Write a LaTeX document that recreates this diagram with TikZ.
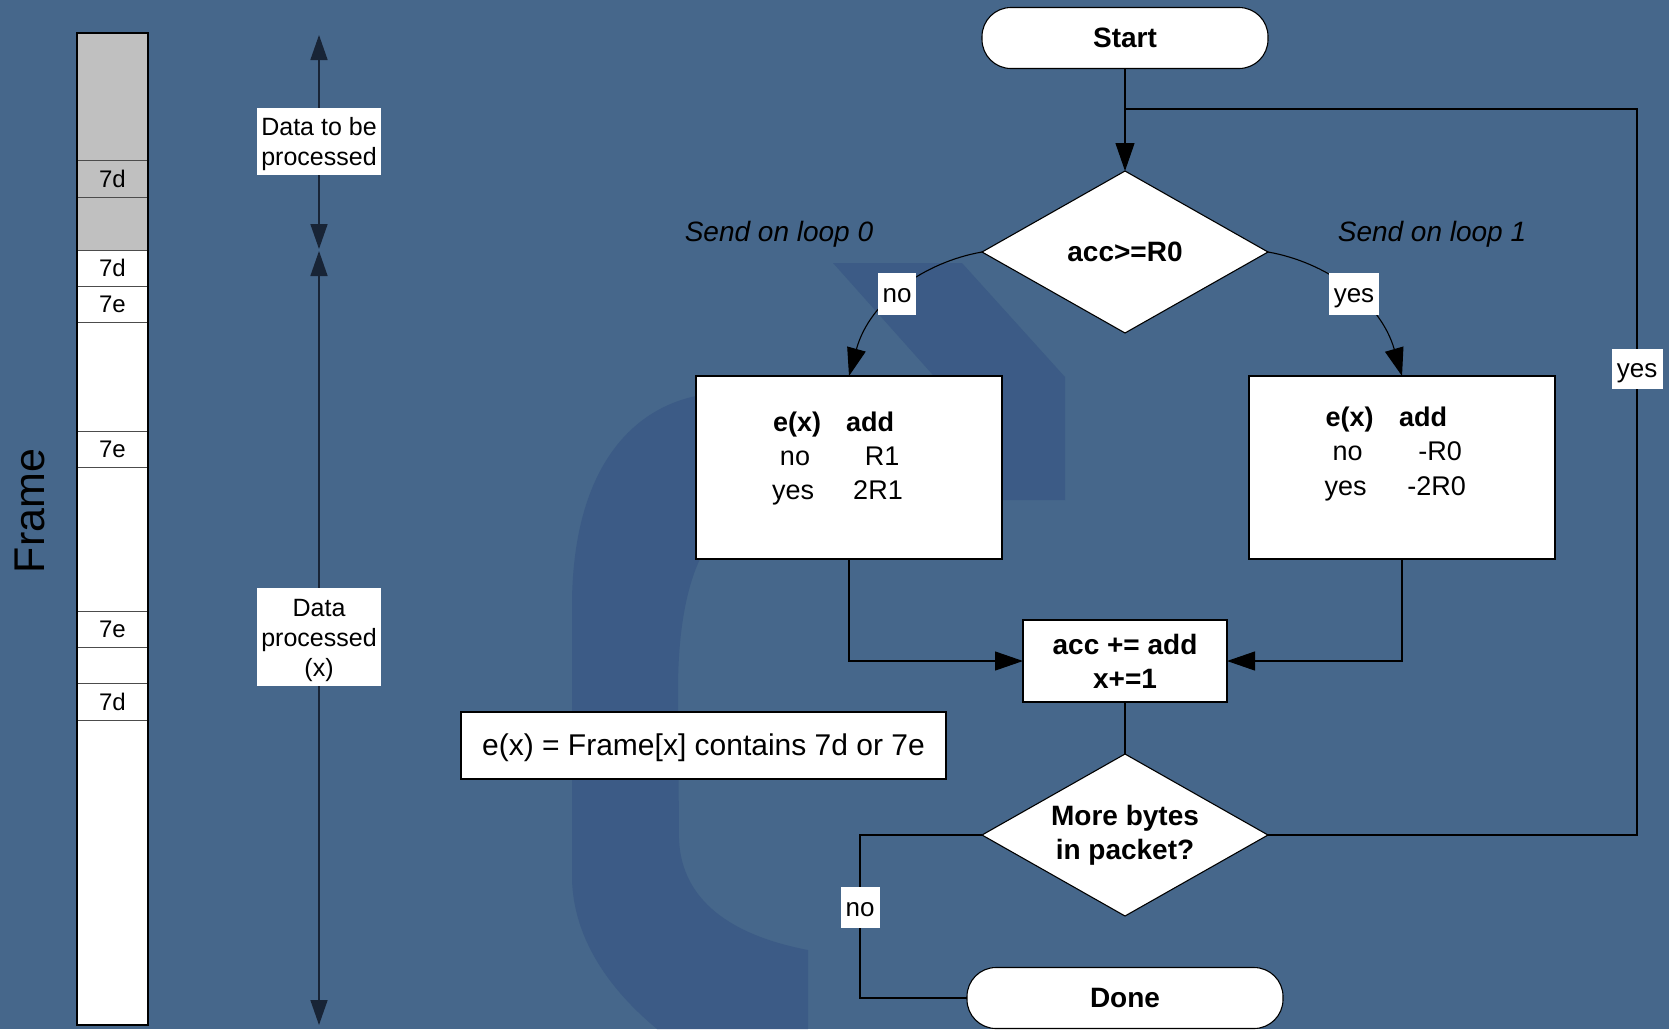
\documentclass[tikz,border=0pt]{standalone}
\usepackage{fontspec}
\setmainfont{Liberation Sans}
\usetikzlibrary{shapes.geometric,arrows.meta}

\definecolor{bgblue}{RGB}{70,103,139}
\definecolor{markblue}{RGB}{60,91,134}
\definecolor{cellgray}{RGB}{192,192,192}
\definecolor{rulecol}{RGB}{24,36,54}

\tikzset{
  flow/.style={draw=black, line width=1.1pt, fill=white, inner sep=0pt, outer sep=0pt},
  boldtxt/.style={font=\fontsize{28}{34}\selectfont\bfseries},
  termbox/.style={flow, boldtxt, rounded corners=29pt, minimum height=61pt},
  decide/.style={flow, boldtxt, diamond, aspect=1.77, align=center,
                 minimum width=286pt, minimum height=162pt},
  procbox/.style={flow, minimum width=306pt, minimum height=183pt},
  mergebox/.style={flow, boldtxt, align=center, minimum width=204pt, minimum height=82pt},
  notebox/.style={flow, font=\fontsize{30}{36}\selectfont, minimum width=485pt,
                  minimum height=67pt, text height=22pt, text depth=3pt},
  tabhead/.style={anchor=base, inner sep=0pt, font=\fontsize{27}{34}\selectfont\bfseries},
  tabcell/.style={anchor=base, inner sep=0pt, font=\fontsize{27}{34}\selectfont},
  lblbox/.style={fill=white, inner sep=0pt, minimum height=42pt,
                 text height=20pt, text depth=3pt, font=\fontsize{26}{30}\selectfont},
  loopnote/.style={anchor=base, inner sep=0pt, font=\fontsize{28}{34}\selectfont\itshape},
  conn/.style={draw=black, line width=1.1pt},
  flowarrow/.style={conn, -{Triangle[length=28pt,width=19pt]}},
  datarule/.style={draw=rulecol, line width=1.6pt,
                   {Triangle[length=25pt,width=17pt]}-{Triangle[length=25pt,width=17pt]}},
  datalabel/.style={fill=white, inner sep=0pt, minimum width=124pt},
  dataline/.style={anchor=base, inner sep=0pt, font=\fontsize{25}{30}\selectfont},
  cell/.style={draw=black!70, line width=1pt, minimum width=71pt, inner sep=0pt,
               outer sep=0pt, font=\fontsize{24}{28}\selectfont},
}

\begin{document}
\begin{tikzpicture}[x=1pt,y=-1pt]
  % background
  \fill[bgblue] (0,0) rectangle (1669,1029);
  \useasboundingbox (0,0) rectangle (1669,1029);

  % watermark shapes
  \fill[markblue] (833,263) -- (962,263) -- (1065,377) -- (1065,500)
                  -- (940,500) -- (940,383) -- cycle;
  \fill[markblue] (705,392) -- (696,396)
                  .. controls (630,410) and (574,470) .. (572,600)
                  -- (572,880)
                  .. controls (574,940) and (610,990) .. (657,1029)
                  -- (808,1029) -- (808,950)
                  .. controls (730,935) and (682,900) .. (679,840)
                  -- (678,690)
                  .. controls (678,620) and (690,580) .. (700,559)
                  -- (760,540) -- (760,400) -- cycle;

  % frame column
  \node[cell, fill=cellgray, minimum height=127pt] (f1)  at (112.5,96.5)  {};
  \node[cell, fill=cellgray, minimum height=37pt]  (f2)  at (112.5,178.5) {7d};
  \node[cell, fill=cellgray, minimum height=53pt]  (f3)  at (112.5,223.5) {};
  \node[cell, fill=white, minimum height=36pt]     (f4)  at (112.5,268)   {7d};
  \node[cell, fill=white, minimum height=36pt]     (f5)  at (112.5,304)   {7e};
  \node[cell, fill=white, minimum height=109pt]    (f6)  at (112.5,376.5) {};
  \node[cell, fill=white, minimum height=36pt]     (f7)  at (112.5,449)   {7e};
  \node[cell, fill=white, minimum height=144pt]    (f8)  at (112.5,539)   {};
  \node[cell, fill=white, minimum height=36pt]     (f9)  at (112.5,629)   {7e};
  \node[cell, fill=white, minimum height=36pt]     (f10) at (112.5,665)   {};
  \node[cell, fill=white, minimum height=37pt]     (f11) at (112.5,701.5) {7d};
  \node[cell, fill=white, minimum height=305pt]    (f12) at (112.5,872.5) {};
  \draw[line width=1.3pt] (f1.north west) rectangle (f12.south east);

  \node[rotate=90, inner sep=0pt, font=\fontsize{43}{50}\selectfont] (framelbl) at (30,511) {Frame};

  % data ranges
  \coordinate (dtop) at (319,35);
  \coordinate (dmidA) at (319,249);
  \coordinate (dmidB) at (319,251);
  \coordinate (dbot) at (319,1025);
  \draw[datarule] (dtop) -- (dmidA);
  \draw[datarule] (dmidB) -- (dbot);
  \node[datalabel, minimum height=67pt] (todo) at (319,141.5) {};
  \node[dataline] (todo1) at (319,135) {Data to be};
  \node[dataline] (todo2) at (319,165) {processed};
  \node[datalabel, minimum height=98pt] (done1) at (319,637) {};
  \node[dataline] (done1a) at (319,616) {Data};
  \node[dataline] (done1b) at (319,646) {processed};
  \node[dataline] (done1c) at (319,676) {(x)};

  % flowchart nodes
  \node[termbox, minimum width=286pt] (start) at (1125,38) {Start};
  \node[decide] (dec1) at (1125,252) {acc>=R0};
  \node[procbox] (box1) at (849,467.5) {};
  \node[procbox] (box2) at (1402,467.5) {};
  \node[mergebox] (merge) at (1125,661) {acc += add\\x+=1};
  \node[decide] (dec2) at (1125,835) {More bytes\\in packet?};
  \node[termbox, minimum width=316pt] (done) at (1125,998) {Done};
  \node[notebox] (note) at (703.5,745.5) {e(x) = Frame[x] contains 7d or 7e};

  % tables inside the two branch boxes
  \node[tabhead] (t1h1) at (797,431) {e(x)};
  \node[tabhead] (t1h2) at (870,431) {add};
  \node[tabcell] (t1a1) at (795,465) {no};
  \node[tabcell] (t1a2) at (882,465) {R1};
  \node[tabcell] (t1b1) at (793,499) {yes};
  \node[tabcell] (t1b2) at (878,499) {2R1};

  \node[tabhead] (t2h1) at (1349.5,426) {e(x)};
  \node[tabhead] (t2h2) at (1423,426) {add};
  \node[tabcell] (t2a1) at (1347.5,460) {no};
  \node[tabcell] (t2a2) at (1440,460) {-R0};
  \node[tabcell] (t2b1) at (1345.5,495) {yes};
  \node[tabcell] (t2b2) at (1436.5,495) {-2R0};

  % branch notes
  \node[loopnote] (loop0) at (779,241) {Send on loop 0};
  \node[loopnote] (loop1) at (1432,241) {Send on loop 1};

  % connectors
  \coordinate (looptop) at (1637,109);
  \coordinate (loopjoin) at (1125,109);
  \coordinate (nocorner) at (860,835);
  \draw[conn] (dec2.east) -| (looptop) -- (loopjoin);
  \draw[flowarrow] (start.south) -- (dec1.north);
  \draw[flowarrow] (dec1.west) .. controls (925,262) and (870,300) .. (box1.north);
  \draw[flowarrow] (dec1.east) .. controls (1325,262) and (1380,300) .. (box2.north);
  \draw[flowarrow] (box1.south) |- (merge.west);
  \draw[flowarrow] (box2.south) |- (merge.east);
  \draw[conn] (merge.south) -- (dec2.north);
  \draw[conn] (dec2.west) -- (nocorner) |- (done.west);

  % connector labels
  \node[lblbox, minimum width=38pt] (lno1) at (897,294) {no};
  \node[lblbox, minimum width=50pt] (lyes1) at (1354,294) {yes};
  \node[lblbox, minimum width=51pt, minimum height=40pt] (lyes2) at (1637,369) {yes};
  \node[lblbox, minimum width=39pt, minimum height=41pt] (lno2) at (860,907.5) {no};
\end{tikzpicture}
\end{document}
